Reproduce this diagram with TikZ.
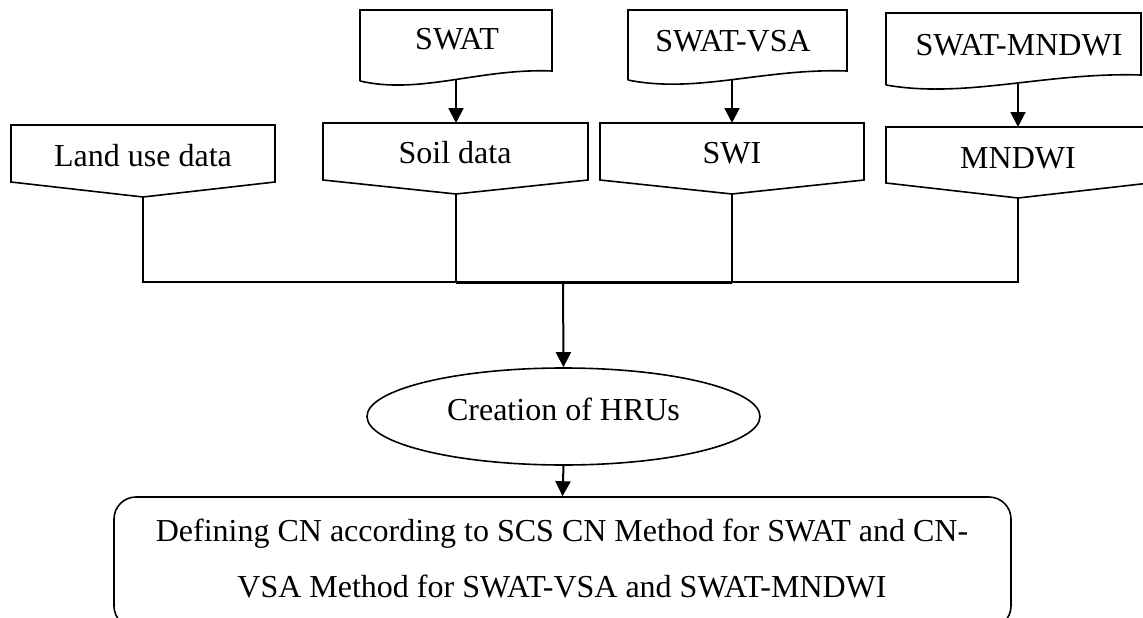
\documentclass[tikz,border=0pt]{standalone}
\usepackage{fontspec}
\setmainfont{Liberation Serif}
\usetikzlibrary{arrows.meta,shapes.geometric,calc}

% Off-page connector: name, left, right, top, side bottom, tip x, tip y
\newcommand\offpagebox[7]{%
  \draw[shapeline] (#2,#4) -- (#3,#4) -- (#3,#5) -- (#6,#7) -- (#2,#5) -- cycle;
  \coordinate (#1-top) at (#6,#4);
  \coordinate (#1-tip) at (#6,#7);}

% Document shape with a wavy bottom: name, left, right, top, right bottom, left bottom
\newcommand\docbox[6]{%
  \pgfmathsetmacro\dcxa{#3-0.375*(#3-#2)}%
  \pgfmathsetmacro\dcya{#5-3}%
  \pgfmathsetmacro\dcxb{#2+0.3125*(#3-#2)}%
  \pgfmathsetmacro\dcyb{#6+14}%
  \draw[shapeline] (#2,#6) -- (#2,#4) -- (#3,#4) -- (#3,#5)
    .. controls (\dcxa,\dcya) and (\dcxb,\dcyb) .. coordinate[pos=0.5] (#1-out) (#2,#6);}

\tikzset{
  shapeline/.style={draw=black, line width=1.6pt, line join=miter},
  link/.style={draw=black, line width=2pt},
  arr/.style={link, -{Triangle[width=15pt,length=15pt]}},
  lbl/.style={font=\fontsize{32}{38}\selectfont, inner sep=0pt, anchor=base},
}

\begin{document}
\begin{tikzpicture}[x=1pt, y=-1pt]
\clip (0,0) rectangle (1143,618);
\fill[white] (0,0) rectangle (1143,618);

% model inputs
\docbox{swat}{360}{552}{10}{71}{81}
\docbox{vsa}{628}{847}{10}{71}{80}
\docbox{mswat}{886}{1141}{13}{75}{85}
\node[lbl] (swatlbl) at (457,50) {SWAT};
\node[lbl] (vsalbl) at (733,52) {SWAT-VSA};
\node[lbl] (mswatlbl) at (1019,56) {SWAT-MNDWI};

% data layers
\offpagebox{land}{11}{275}{125}{182}{143}{197}
\offpagebox{soil}{323}{588}{123}{180}{456}{194}
\offpagebox{swi}{600}{864}{123}{180}{732}{194}
\offpagebox{mndwi}{886}{1150}{127}{183}{1018}{198}
\node[lbl] (landlbl) at (143,166) {Land use data};
\node[lbl] (soillbl) at (455,163) {Soil data};
\node[lbl] (swilbl) at (732,163) {SWI};
\node[lbl] (mndwilbl) at (1018,168) {MNDWI};

% model to layer arrows
\draw[arr] (swat-out -| soil-top) -- (soil-top);
\draw[arr] (vsa-out -| swi-top) -- (swi-top);
\draw[arr] (mswat-out -| mndwi-top) -- (mndwi-top);

% HRU and CN steps
\node[draw, ellipse, line width=1.6pt, minimum width=393pt, minimum height=97pt, inner sep=0pt] (hru) at (563.5,416.5) {};
\node[lbl] (hrulbl) at (563.5,420) {Creation of HRUs};
\node[draw, line width=1.6pt, rounded corners=22pt, minimum width=897pt, minimum height=131pt, inner sep=0pt] (cn) at (562.5,562.5) {};
\node[lbl] (cn1) at (562,541) {Defining CN according to SCS CN Method for SWAT and CN-};
\node[lbl] (cn2) at (562,597) {VSA Method for SWAT-VSA and SWAT-MNDWI};

% collector lines
\coordinate (bus) at (563,282);
\draw[link] (land-tip) |- (bus);
\draw[link] (mndwi-tip) |- (bus);
\draw[link] (soil-tip) |- (bus);
\draw[link] (swi-tip) |- (bus);
\draw[draw=black, line width=3pt] (soil-tip |- bus) -- (swi-tip |- bus);

\draw[arr] (bus) -- (hru.north);
\draw[arr] (hru.south) -- (cn.north);
\end{tikzpicture}
\end{document}
